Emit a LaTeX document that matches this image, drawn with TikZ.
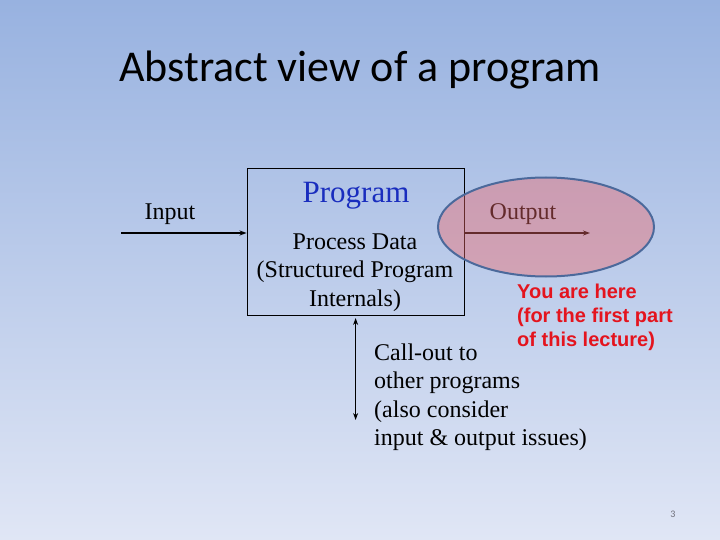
\documentclass[tikz,border=0pt]{standalone}
\usepackage{fontspec}
\setmainfont{Liberation Serif}
\newfontfamily\titlefont{Carlito}
\newfontfamily\notefont{Liberation Sans}
\usetikzlibrary{arrows.meta,positioning,shapes.geometric}
\definecolor{bgtop}{RGB}{152,178,224}
\definecolor{bgmid}{RGB}{200,214,238}
\definecolor{bgbot}{RGB}{224,230,245}
\definecolor{progblue}{RGB}{25,45,190}
\definecolor{herepink}{RGB}{240,104,106}
\definecolor{ringblue}{RGB}{75,105,155}
\definecolor{herered}{RGB}{228,20,30}
\definecolor{numgray}{RGB}{110,110,120}

\begin{document}
\begin{tikzpicture}[
  x=1pt, y=-1pt,
  txt/.style={font=\fontsize{24}{28.5}\selectfont, inner sep=0pt},
  arr/.style={-{Stealth[length=7pt,width=5pt]}, line width=1.3pt},
  ring/.style={ellipse, draw=ringblue, line width=2pt, fill=herepink,
               fill opacity=0.42, minimum width=216pt, minimum height=99pt}
]
  \useasboundingbox (0,0) rectangle (720,540);
  \fill[top color=bgtop, middle color=bgmid, bottom color=bgbot] (0,0) rectangle (720,540);

  \node[font=\titlefont\fontsize{44}{50}\selectfont, anchor=base, inner sep=0pt] (title) at (360,82) {Abstract view of a program};

  \node[draw, line width=0.9pt, minimum width=217pt, minimum height=147pt, inner sep=0pt] (prog) at (355.5,241.5) {};
  \node[txt, font=\fontsize{31}{36}\selectfont, text=progblue, anchor=base] (progname) at (356,203) {Program};
  \node[txt, align=center, anchor=base] (body) at (355,306) {Process Data\\(Structured Program\\Internals)};

  \node[txt, anchor=base] (inlbl) at (170,219) {Input};
  \node[txt, anchor=base] (outlbl) at (523,219) {Output};

  \coordinate (instart) at (121,233);
  \coordinate (outend) at (590,233);
  \draw[arr] (instart) -- (instart -| prog.west);
  \draw[arr] (prog.east |- outend) -- (outend);

  \coordinate (calltop) at (355.6,318);
  \coordinate (callbot) at (355.6,420);
  \draw[arr, {Stealth[length=7pt,width=5pt]}-{Stealth[length=7pt,width=5pt]}] (calltop) -- (callbot);
  \node[txt, align=left, anchor=base west] (callout) at (374,445.5) {Call-out to\\other programs\\(also consider\\input \& output issues)};

  % translucent mark over the output side
  \node[ring] (here ring) at (546,227) {};
  \node[font=\notefont\bfseries\fontsize{20}{24}\selectfont, text=herered, align=left, anchor=base west, inner sep=0pt] (here) at (517,346) {You are here\\(for the first part\\of this lecture)};

  \node[font=\titlefont\fontsize{10}{11}\selectfont, text=numgray] (pagenum) at (673,514) {3};
\end{tikzpicture}
\end{document}
